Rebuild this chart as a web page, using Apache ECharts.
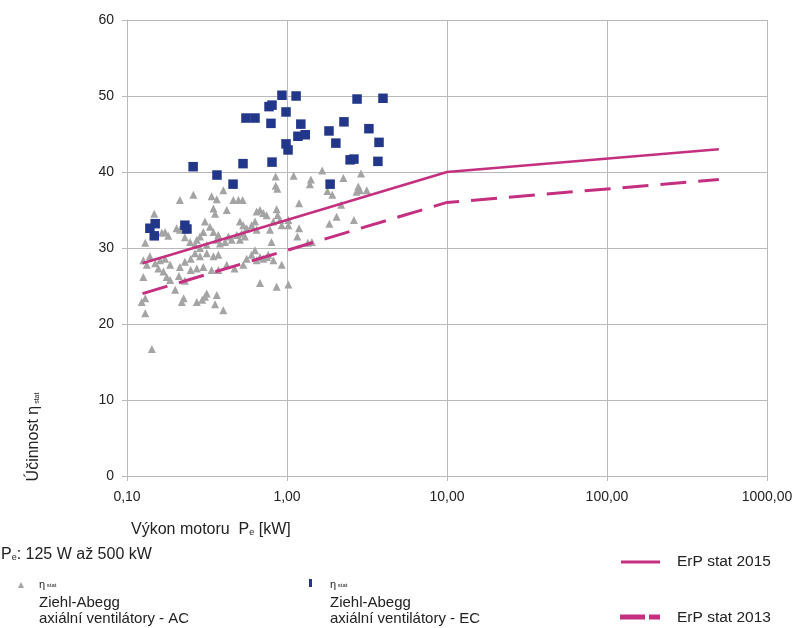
<!DOCTYPE html>
<html>
<head>
<meta charset="utf-8">
<script src="https://cdn.jsdelivr.net/npm/echarts@6/dist/echarts.min.js"></script>
<style>
  html, body { margin: 0; padding: 0; background: #fff; }
  #chart { width: 798px; height: 628px; }
</style>
</head>
<body>
<div id="chart"></div>
<script>
// Ziehl-Abegg axial fans AC (grey triangles): motor power [kW], static efficiency [%]
const acPower = [0.85, 0.85, 0.87, 1.10, 1.41, 1.39, 1.66, 2.25, 2.90, 1.79, 1.92, 2.79, 2.72, 3.15, 2.18, 2.04, 1.84, 2.62,
  0.26, 0.214, 0.40, 0.338, 0.364, 0.462, 0.497, 0.528, 0.42, 0.347, 0.355, 0.148, 0.646, 0.678, 0.711, 0.746, 0.861, 0.874,
  1.19, 1.19, 1.16, 0.904, 0.926, 1.02, 0.822, 0.783, 0.601, 0.646, 0.631, 0.508, 0.533, 0.56, 0.521, 0.485, 0.546, 0.508,
  0.307, 0.33, 0.30, 0.347, 0.372, 0.364, 0.286, 0.273, 0.266, 0.286, 0.315, 0.381, 0.41, 0.43, 0.451, 0.214, 0.204, 0.23,
  0.23, 0.248, 0.173, 0.181, 0.1265, 0.133, 0.139, 0.15, 0.161, 0.173, 0.186, 0.157, 0.169, 0.177, 0.186, 0.20, 0.214, 0.23,
  0.25, 0.266, 0.286, 0.315, 0.347, 0.372, 0.25, 0.273, 0.30, 0.338, 0.372, 0.42, 0.47, 0.533, 0.56, 0.601, 0.631, 0.646,
  0.711, 0.764, 0.822, 0.926, 0.1265, 0.211, 0.23, 0.678, 0.861, 1.02, 0.1235, 0.13, 0.13, 0.22, 0.226, 0.273, 0.295, 0.307,
  0.315, 0.364, 0.355, 0.40, 0.143, 1.35, 1.43, 1.02, 0.80, 0.13, 0.165, 0.678, 0.75, 2.86];
const acEff = [39.4, 38.2, 37.8, 39.5, 39.0, 38.4, 40.2, 39.2, 39.8, 37.5, 37.0, 38.1, 37.4, 37.6, 35.7, 34.1, 33.2, 33.7,
  37.0, 36.3, 37.6, 36.8, 36.4, 36.3, 36.3, 36.3, 35.0, 35.2, 34.5, 34.5, 34.8, 35.0, 34.6, 34.3, 35.1, 34.3,
  35.9, 32.6, 31.5, 33.7, 33.0, 33.0, 33.5, 32.4, 33.0, 32.4, 33.5, 33.5, 33.0, 32.6, 31.9, 31.7, 31.5, 31.1,
  33.5, 32.8, 32.1, 32.1, 31.7, 31.1, 31.5, 31.1, 30.4, 30.0, 30.4, 30.6, 30.8, 31.5, 31.1, 32.4, 32.6, 32.4,
  31.4, 30.8, 32.1, 31.6, 28.4, 27.8, 28.9, 28.0, 28.4, 28.6, 27.8, 27.3, 26.9, 26.2, 25.8, 24.5, 27.5, 28.2,
  28.6, 29.3, 28.9, 29.3, 28.9, 29.1, 27.1, 27.3, 27.5, 27.1, 27.1, 27.8, 27.3, 27.8, 28.6, 29.1, 29.7, 28.4,
  28.6, 29.1, 28.4, 27.8, 26.2, 26.3, 25.7, 25.4, 24.9, 25.2, 22.9, 23.4, 21.4, 22.9, 23.4, 22.9, 23.2, 23.6,
  24.0, 23.8, 22.6, 21.8, 16.7, 30.7, 30.8, 33.7, 30.8, 30.7, 32.0, 28.8, 28.8, 37.6];

// Ziehl-Abegg axial fans EC (blue squares)
const ecPower = [0.139, 0.150, 0.148, 0.230, 0.237, 0.259, 0.365, 0.460, 0.531, 0.554, 0.631, 0.772, 0.806, 0.794, 0.806,
  0.93, 0.986, 0.986, 1.015, 1.14, 1.22, 1.17, 1.30, 1.83, 1.86, 2.02, 2.27, 2.48, 2.62, 2.74, 3.25, 3.76, 3.70, 3.98];
const ecEff = [32.6, 33.2, 31.6, 33.0, 32.5, 40.7, 39.6, 38.4, 41.1, 47.1, 47.1, 48.6, 48.8, 46.4, 41.3,
  50.1, 47.9, 43.7, 42.9, 50.0, 46.3, 44.7, 44.9, 45.4, 38.4, 43.8, 46.6, 41.6, 41.7, 49.6, 45.7, 43.9, 41.4, 49.7];

// ErP minimum static efficiency limits
const erpPower = [0.125, 10, 500];
const erp2015 = [28, 40, 43];
const erp2013 = [24, 36, 39];

const xTicks = ['0,10', '1,00', '10,00', '100,00', '1000,00'];

const font = 'Liberation Sans, Arial, sans-serif';
const magenta = '#c4307f';
const grey = '#a4a4a4';
const blue = '#22378a';
const gridColor = '#b9b9b9';
const ink = '#222';

const pairs = (xs, ys) => xs.map((x, i) => [x, ys[i]]);
const label = (x, y, text, size) => ({
  type: 'text', x, y,
  style: { text, fontSize: size, fontFamily: font, fill: ink, verticalAlign: 'middle' }
});
const sub = (base, small) => ({
  m: { fontSize: base, fontFamily: font, fill: ink },
  s: { fontSize: small, fontFamily: font, fill: ink, padding: [Math.round(base * 0.4), 0, 0, 0] }
});

const chart = echarts.init(document.getElementById('chart'));
chart.setOption({
  animation: false,
  textStyle: { fontFamily: font },
  grid: { left: 127, right: 31, top: 20, bottom: 152 },
  xAxis: {
    type: 'log', logBase: 10, min: 0.1, max: 1000,
    axisLine: { lineStyle: { color: gridColor } },
    axisTick: { show: true, length: 5, lineStyle: { color: gridColor } },
    minorTick: { show: false },
    splitLine: { show: true, lineStyle: { color: gridColor, width: 1 } },
    axisLabel: {
      color: ink, fontSize: 14, fontFamily: font, margin: 14,
      formatter: v => xTicks[Math.round(Math.log10(v)) + 1] || ''
    }
  },
  yAxis: {
    type: 'value', min: 0, max: 60, interval: 10,
    axisLine: { show: true, lineStyle: { color: gridColor } },
    axisTick: { show: true, length: 5, lineStyle: { color: gridColor } },
    splitLine: { show: true, lineStyle: { color: gridColor, width: 1 } },
    axisLabel: { color: ink, fontSize: 14, fontFamily: font, margin: 13 }
  },
  series: [
    {
      name: 'AC', type: 'scatter', symbol: 'triangle', symbolSize: 8,
      itemStyle: { color: grey, opacity: 1 },
      data: pairs(acPower, acEff), z: 2
    },
    {
      name: 'ErP stat 2015', type: 'line', symbol: 'none',
      lineStyle: { color: magenta, width: 2.5 },
      data: pairs(erpPower, erp2015), z: 3
    },
    {
      name: 'ErP stat 2013', type: 'line', symbol: 'none',
      lineStyle: { color: magenta, width: 3, type: [26, 12] },
      data: pairs(erpPower, erp2013), z: 3
    },
    {
      name: 'EC', type: 'scatter', symbol: 'rect', symbolSize: 9.5,
      itemStyle: { color: blue, opacity: 1 },
      data: pairs(ecPower, ecEff), z: 4
    }
  ],
  graphic: [
    {
      type: 'text', x: 34, y: 437, rotation: Math.PI / 2,
      style: {
        text: '{m|Účinnost η}{s| stat}', align: 'center', verticalAlign: 'middle',
        rich: sub(16, 7)
      }
    },
    {
      type: 'text', x: 131, y: 530,
      style: { text: '{m|Výkon motoru  P}{s|e}{m| [kW]}', verticalAlign: 'middle', rich: sub(16, 9) }
    },
    {
      type: 'text', x: 1, y: 555,
      style: { text: '{m|P}{s|e}{m|: 125 W až 500 kW}', verticalAlign: 'middle', rich: sub(16, 9) }
    },
    // legend: AC
    { type: 'polygon', shape: { points: [[18, 588], [24, 588], [21, 582]] }, style: { fill: grey } },
    {
      type: 'text', x: 39, y: 585,
      style: { text: '{g|η}{s| stat}', verticalAlign: 'middle',
        rich: { g: { fontSize: 11, fontFamily: font, fill: ink }, s: { fontSize: 6, fontFamily: font, fill: ink } } }
    },
    label(39, 603, 'Ziehl-Abegg', 15),
    label(39, 619, 'axiální ventilátory - AC', 15),
    // legend: EC
    { type: 'rect', shape: { x: 309, y: 579, width: 3, height: 8 }, style: { fill: blue } },
    {
      type: 'text', x: 330, y: 585,
      style: { text: '{g|η}{s| stat}', verticalAlign: 'middle',
        rich: { g: { fontSize: 11, fontFamily: font, fill: ink }, s: { fontSize: 6, fontFamily: font, fill: ink } } }
    },
    label(330, 603, 'Ziehl-Abegg', 15),
    label(330, 619, 'axiální ventilátory - EC', 15),
    // legend: ErP lines
    { type: 'line', shape: { x1: 621, y1: 562, x2: 660, y2: 562 }, style: { stroke: magenta, lineWidth: 3 } },
    label(677, 562, 'ErP stat 2015', 15.5),
    { type: 'line', shape: { x1: 620, y1: 617, x2: 660, y2: 617 }, style: { stroke: magenta, lineWidth: 5, lineDash: [25, 4] } },
    label(677, 618, 'ErP stat 2013', 15.5)
  ]
});
</script>
</body>
</html>
